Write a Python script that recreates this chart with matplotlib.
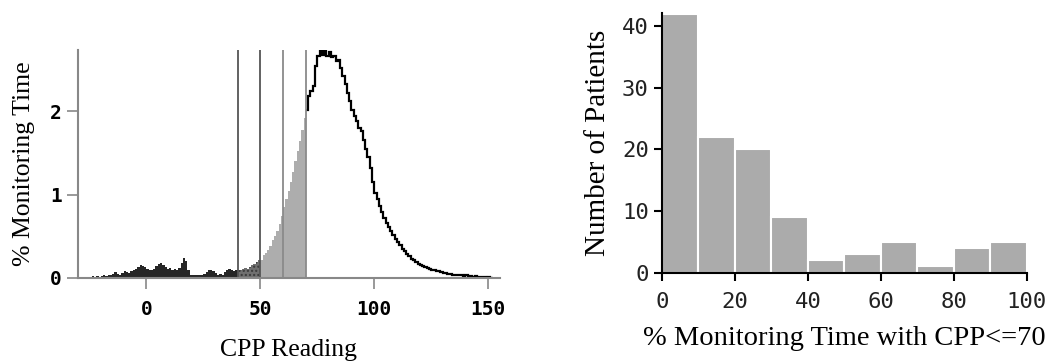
import numpy as np
import matplotlib
matplotlib.use("Agg")
import matplotlib.pyplot as plt

# --- left panel: distribution of CPP readings (1 mmHg bins) ---
cpp_start = -28
cpp_pct = [
    # -28 .. -1
    0.00, 0.01, 0.00, 0.01, 0.02, 0.01, 0.02, 0.01, 0.02, 0.03,
    0.02, 0.03, 0.04, 0.05, 0.07, 0.05, 0.04, 0.06, 0.08, 0.07,
    0.06, 0.08, 0.09, 0.11, 0.13, 0.15, 0.14, 0.13,
    # 0 .. 39
    0.11, 0.10, 0.09, 0.11, 0.14, 0.17, 0.18, 0.16, 0.13, 0.11,
    0.12, 0.10, 0.11, 0.10, 0.12, 0.18, 0.24, 0.20, 0.10, 0.04,
    0.03, 0.03, 0.03, 0.03, 0.04, 0.05, 0.07, 0.09, 0.10, 0.08,
    0.06, 0.04, 0.05, 0.04, 0.07, 0.10, 0.11, 0.10, 0.08, 0.09,
    # 40 .. 49
    0.10, 0.09, 0.11, 0.12, 0.11, 0.13, 0.15, 0.17, 0.19, 0.21,
    # 50 .. 69
    0.22, 0.27, 0.30, 0.33, 0.38, 0.45, 0.50, 0.57, 0.65, 0.75,
    0.85, 0.95, 1.05, 1.15, 1.27, 1.40, 1.52, 1.65, 1.78, 1.92,
    # 70 .. 151
    2.02, 2.18, 2.25, 2.30, 2.55, 2.66, 2.72, 2.68, 2.73, 2.66,
    2.71, 2.65, 2.67, 2.60, 2.62, 2.52, 2.43, 2.33, 2.22, 2.12,
    2.02, 1.95, 1.88, 1.80, 1.76, 1.66, 1.55, 1.45, 1.32, 1.15,
    1.02, 0.95, 0.86, 0.79, 0.72, 0.66, 0.61, 0.56, 0.52, 0.47,
    0.43, 0.39, 0.35, 0.32, 0.29, 0.26, 0.23, 0.21, 0.19, 0.17,
    0.16, 0.14, 0.13, 0.12, 0.11, 0.10, 0.09, 0.08, 0.08, 0.07,
    0.06, 0.06, 0.05, 0.05, 0.04, 0.04, 0.03, 0.04, 0.03, 0.02,
    0.03, 0.02, 0.02, 0.01, 0.02, 0.01, 0.01, 0.01, 0.01, 0.00,
    0.01, 0.00,
]
thresholds = [40, 50, 60, 70]

# --- right panel: histogram of patients ---
bin_edges = [0, 10, 20, 30, 40, 50, 60, 70, 80, 90, 100]
n_patients = [42, 22, 20, 9, 2, 3, 5, 1, 4, 5]

serif = "Liberation Serif"
mono = "DejaVu Sans Mono"

fig = plt.figure(figsize=(10.54, 3.61), dpi=100)

# ---------- left ----------
ax1 = fig.add_axes([0.074, 0.230, 0.400, 0.632])
vals = np.array(cpp_pct)
edges = np.arange(cpp_start, cpp_start + len(vals) + 1)
lo = edges[:-1]


def seg(a, b):
    m = (lo >= a) & (lo < b)
    idx = np.where(m)[0]
    return vals[idx], edges[idx[0]:idx[-1] + 2]


v, e = seg(-100, 40)
ax1.stairs(v, e, fill=True, color="#262626", baseline=0)
v, e = seg(40, 50)
ax1.stairs(v, e, fill=True, facecolor="#707070", edgecolor="#3a3a3a",
           hatch="....", linewidth=0, baseline=0)
v, e = seg(50, 70)
ax1.stairs(v, e, fill=True, color="#adadad", baseline=0)
v, e = seg(70, 1000)
ax1.stairs(v, e, color="black", linewidth=1.6, baseline=None)

for t, c in zip(thresholds, ["#555555", "#555555", "#8a8a8a", "#8a8a8a"]):
    ax1.axvline(t, color=c, linewidth=1.3)

ax1.set_xlim(-30, 155)
ax1.set_ylim(0, 2.74)
ax1.set_xticks([0, 50, 100, 150])
ax1.set_yticks([0, 1, 2])
for s in ["top", "right"]:
    ax1.spines[s].set_visible(False)
for s in ["left", "bottom"]:
    ax1.spines[s].set_color("#888888")
    ax1.spines[s].set_linewidth(1.5)
ax1.tick_params(colors="#888888", length=8, width=1.2, labelcolor="black")
ax1.tick_params(axis="x", pad=8)
for lab in ax1.get_xticklabels() + ax1.get_yticklabels():
    lab.set_fontfamily(mono)
    lab.set_fontweight("bold")
    lab.set_fontsize(14)
ax1.set_xlabel("CPP Reading", fontfamily=serif, fontsize=18.5, labelpad=14)
ax1.set_ylabel("% Monitoring Time", fontfamily=serif, fontsize=18.5, labelpad=11)

# ---------- right ----------
ax2 = fig.add_axes([0.628, 0.245, 0.346, 0.720])
widths = np.diff(bin_edges)
ax2.bar(bin_edges[:-1], n_patients, width=widths, align="edge",
        color="#ababab", edgecolor="white", linewidth=1.5)
ax2.set_xlim(0, 100)
ax2.set_ylim(0, 42.2)
ax2.set_xticks([0, 20, 40, 60, 80, 100])
ax2.set_yticks([0, 10, 20, 30, 40])
for s in ["top", "right"]:
    ax2.spines[s].set_visible(False)
for s in ["left", "bottom"]:
    ax2.spines[s].set_linewidth(1.5)
ax2.tick_params(length=6, width=1.5)
ax2.tick_params(axis="x", pad=8)
for lab in ax2.get_xticklabels() + ax2.get_yticklabels():
    lab.set_fontfamily(mono)
    lab.set_fontsize(16)
    lab.set_color("#222222")
ax2.set_xlabel("% Monitoring Time with CPP<=70", fontfamily=serif, fontsize=20.5, labelpad=10)
ax2.set_ylabel("Number of Patients", fontfamily=serif, fontsize=21, labelpad=8)

fig.savefig("out.png", dpi=100)
